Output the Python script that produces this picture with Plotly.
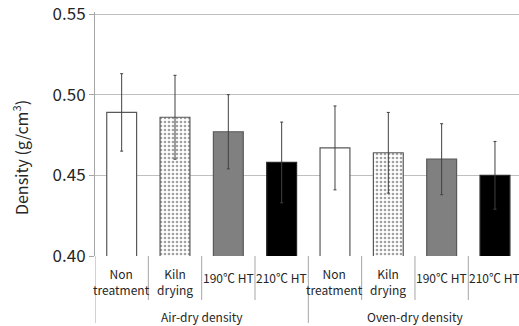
import plotly.graph_objects as go

groups = ["Air-dry density", "Oven-dry density"]
treatments = ["Non<br>treatment", "Kiln<br>drying", "190℃ HT", "210℃ HT"]
air_dry = [0.489, 0.486, 0.477, 0.458]
air_dry_err = [0.024, 0.026, 0.023, 0.025]
oven_dry = [0.467, 0.464, 0.460, 0.450]
oven_dry_err = [0.026, 0.025, 0.022, 0.021]
y_ticks = [0.40, 0.45, 0.50, 0.55]

fills = ["#ffffff", "#ffffff", "#808080", "#000000"]
lines = ["#595959", "#595959", "#595959", "#262626"]
patterns = ["", ".", "", ""]

values = air_dry + oven_dry
errs = air_dry_err + oven_dry_err
labels = treatments + treatments
xs = list(range(len(values)))

font = "Noto Sans CJK KR, Noto Sans, sans-serif"

fig = go.Figure()
fig.add_trace(go.Bar(
    x=xs, y=values, base=0,
    width=0.56,
    marker=dict(
        color=fills * 2,
        line=dict(color=lines * 2, width=1.2),
        pattern=dict(shape=patterns * 2, fgcolor="#8c8c8c", bgcolor="#ffffff",
                     size=4, solidity=0.35),
    ),
    error_y=dict(type="data", array=errs, color="#404040", thickness=1, width=1.5),
    showlegend=False,
))

n = len(values)
x0, x1 = -0.5, -0.5 + 424 / 53.33

# plot area: top at 12 px, 0.40 at 256 px, 0.55 at 14 px
top_px, bot_px = 12, 256
scale = (256 - 14) / 0.15
y_top = 0.55 + (14 - top_px) / scale
plot_h = bot_px - top_px

def py(pix):
    return (bot_px - pix) / plot_h

shapes = []
for i in range(n + 1):
    xb = i - 0.5
    outer = (i % len(treatments) == 0)
    shapes.append(dict(type="line", xref="x", yref="paper",
                       x0=xb, x1=xb, y0=0, y1=py(323) if outer else py(300),
                       line=dict(color="#a6a6a6", width=1)))

annotations = []
for i, lab in enumerate(labels):
    two = "<br>" in lab
    annotations.append(dict(x=i, y=py(263) if two else py(267), xref="x", yref="paper",
                            text=lab, showarrow=False, yanchor="top",
                            font=dict(family=font, size=12, color="#262626"),
                            align="center"))
for g, name in enumerate(groups):
    cx = g * len(treatments) + (len(treatments) - 1) / 2
    annotations.append(dict(x=cx, y=py(306), xref="x", yref="paper",
                            text=name, showarrow=False, yanchor="top",
                            font=dict(family=font, size=12, color="#262626")))
annotations.append(dict(x=-(95 - 20) / 424, y=py(158), xref="paper", yref="paper",
                        text="Density (g/cm<sup>3</sup>)",
                        showarrow=False, textangle=-90, xanchor="center", yanchor="middle",
                        font=dict(family=font, size=16, color="#262626")))

fig.update_layout(
    width=519, height=326,
    margin=dict(l=95, r=0, t=top_px, b=326 - bot_px),
    plot_bgcolor="white", paper_bgcolor="white",
    shapes=shapes,
    annotations=annotations,
    xaxis=dict(range=[x0, x1], showticklabels=False, showgrid=False, zeroline=False,
               ticks="", showline=False, fixedrange=True),
    yaxis=dict(range=[0.40, y_top], tickvals=y_ticks,
               ticktext=[f"{v:.2f}" for v in y_ticks],
               ticklabeloverflow="allow",
               showgrid=True, gridcolor="#bfbfbf", gridwidth=1,
               showline=True, linecolor="#a6a6a6", linewidth=1,
               ticks="outside", ticklen=5, tickcolor="#a6a6a6",
               zeroline=False,
               tickfont=dict(family=font, size=17, color="#262626")),
)

fig.write_html("out.html")
